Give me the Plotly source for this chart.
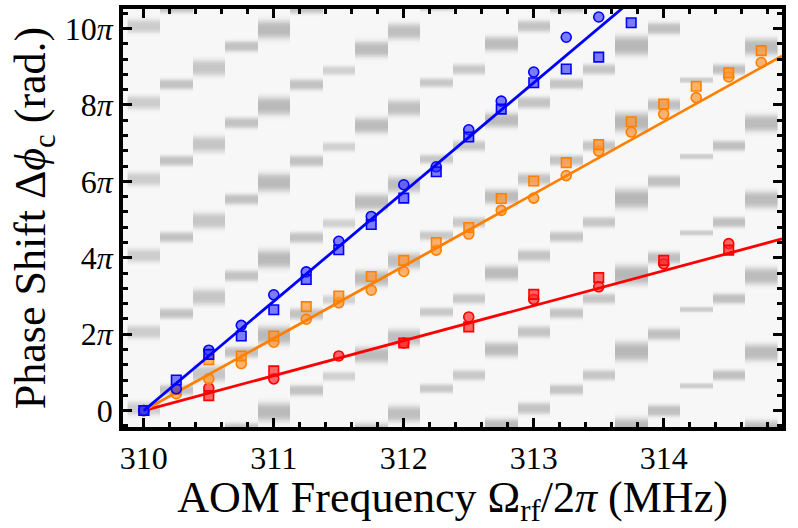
import numpy as np
import plotly.graph_objects as go

# ---------------- data (phase in units of pi) ----------------
blue_f_circ = [310, 310.25, 310.5, 310.75, 311, 311.25, 311.5, 311.75, 312, 312.25,
               312.5, 312.75, 313, 313.25, 313.5]
blue_circ = [0, 0.57, 1.58, 2.23, 3.03, 3.63, 4.43, 5.08, 5.91, 6.38,
             7.35, 8.10, 8.86, 9.77, 10.30]
blue_f_sq = [310, 310.25, 310.5, 310.75, 311, 311.25, 311.5, 311.75, 312, 312.25,
             312.5, 312.75, 313, 313.25, 313.5, 313.75]
blue_sq = [0, 0.80, 1.47, 1.95, 2.64, 3.43, 4.21, 4.87, 5.56, 6.25,
           7.16, 7.89, 8.58, 8.94, 9.25, 10.15]

orange_f = [310, 310.25, 310.5, 310.75, 311, 311.25, 311.5, 311.75, 312, 312.25,
            312.5, 312.75, 313, 313.25, 313.5, 313.75, 314, 314.25, 314.5, 314.75]
orange_circ = [0, 0.44, 0.83, 1.23, 1.79, 2.39, 2.82, 3.15, 3.64, 4.20,
               4.62, 5.24, 5.56, 6.15, 6.79, 7.29, 7.76, 8.19, 8.73, 9.11]
orange_sq = [0, 0.55, 1.33, 1.43, 1.95, 2.72, 3.00, 3.51, 3.93, 4.40,
             4.79, 5.55, 6.01, 6.49, 6.96, 7.56, 8.02, 8.49, 8.84, 9.42]

red_f_circ = [310, 310.5, 311, 311.5, 312, 312.5, 313, 313.5, 314, 314.5]
red_circ = [0, 0.59, 0.83, 1.43, 1.77, 2.45, 2.91, 3.24, 3.84, 4.37]
red_f_sq = [310, 310.5, 311, 312, 312.5, 313, 313.5, 314, 314.5]
red_sq = [0, 0.39, 1.04, 1.77, 2.19, 3.04, 3.48, 3.93, 4.20]

# fitted slopes (pi per MHz), lines start at (310, 0)
fit_f0 = 310.0
fit_end = 314.91
blue_slope = 2.86
orange_slope = 1.89
red_slope = 0.915

# background fringe map: one column per frequency
bg_f = [310, 310.25, 310.5, 310.75, 311, 311.25, 311.5, 311.75, 312, 312.25,
        312.5, 312.75, 313, 313.25, 313.5, 313.75, 314, 314.25, 314.5, 314.75]
bg_offset = [0.06, 0.54, 0.97, 1.53, 1.97, 0.53, 0.90, 1.46, 1.92, 0.58,
             0.93, 1.60, 0.06, 0.55, 0.93, 1.55, 0.00, 0.65, 0.93, 1.52]
bg_depth = [0.50, 0.62, 0.58, 0.62, 0.72, 0.62, 0.45, 0.70, 0.66, 0.55,
            0.55, 0.70, 0.60, 0.60, 0.58, 0.75, 0.65, 0.50, 0.65, 0.70]
bg_halfwidth = [0.22, 0.17, 0.26, 0.18, 0.30, 0.18, 0.15, 0.26, 0.26, 0.15,
                0.17, 0.24, 0.19, 0.17, 0.17, 0.32, 0.19, 0.09, 0.17, 0.28]

x_ticks = [310, 311, 312, 313, 314]
y_tickvals = [0, 2, 4, 6, 8, 10]
y_ticktext = ["0", "2<i>π</i>", "4<i>π</i>", "6<i>π</i>", "8<i>π</i>", "10<i>π</i>"]

x_title = "AOM Frequency Ω<sub>rf</sub>/2<i>π</i> (MHz)"
y_title = "Phase Shift Δ<i>ϕ</i><sub>c</sub> (rad.)"

# ---------------- build figure ----------------
yy = np.arange(-0.5, 10.62, 0.01)
z = np.zeros((len(yy), len(bg_f)))
for k in range(len(bg_f)):
    col = np.zeros_like(yy)
    w = 0.8 * bg_halfwidth[k]
    for n in range(-2, 8):
        d = np.abs(yy - bg_offset[k] - 2 * n) / w
        col += np.exp(-d ** 3)
    z[:, k] = bg_depth[k] * np.clip(col, 0, 1)

fig = go.Figure()
fig.add_trace(go.Heatmap(
    x=bg_f, y=yy, z=z, zmin=0, zmax=1, showscale=False, zsmooth=False,
    colorscale=[[0, "#f7f7f7"], [1, "#a2a2a2"]], hoverinfo="skip"))

fx = np.array([fit_f0, fit_end])


def add_series(fc, vc, fs, vs, slope, line_col, fill_col):
    fig.add_trace(go.Scatter(
        x=fc, y=vc, mode="markers", cliponaxis=False,
        marker=dict(symbol="circle", size=10, color=fill_col,
                    line=dict(color=line_col, width=1.6))))
    fig.add_trace(go.Scatter(
        x=fs, y=vs, mode="markers", cliponaxis=False,
        marker=dict(symbol="square", size=9.5, color=fill_col,
                    line=dict(color=line_col, width=1.6))))
    fig.add_trace(go.Scatter(
        x=fx, y=slope * (fx - fit_f0), mode="lines",
        line=dict(color=line_col, width=2.8)))


add_series(red_f_circ, red_circ, red_f_sq, red_sq, red_slope, "#ff0000", "rgba(255,40,40,0.7)")
add_series(orange_f, orange_circ, orange_f, orange_sq, orange_slope, "#ff8000", "rgba(255,150,50,0.7)")
add_series(blue_f_circ, blue_circ, blue_f_sq, blue_sq, blue_slope, "#0000ff", "rgba(40,40,255,0.6)")

font_family = "Liberation Serif, Times New Roman, serif"

fig.update_layout(
    width=798, height=528,
    margin=dict(l=123, r=16, t=5, b=101),
    paper_bgcolor="white", plot_bgcolor="#f7f7f7",
    showlegend=False,
    font=dict(family=font_family, color="black", size=32),
)
fig.update_xaxes(
    range=[309.84, 314.91], tickvals=x_ticks, ticks="inside", ticklen=9, tickwidth=3,
    tickcolor="black", showline=True, linewidth=3.5, linecolor="black", mirror="allticks",
    showgrid=False, zeroline=False, tickfont=dict(size=32),
    minor=dict(ticks="inside", dtick=0.2, tick0=310, ticklen=5, tickwidth=3, tickcolor="black", showgrid=False),
    title=dict(text=x_title, font=dict(size=44), standoff=0),
)
fig.update_yaxes(
    range=[-0.43, 10.51], tickvals=y_tickvals, ticktext=y_ticktext, ticks="inside",
    ticklen=9, tickwidth=3, tickcolor="black", showline=True, linewidth=3.5,
    linecolor="black", mirror="allticks", showgrid=False, zeroline=False,
    tickfont=dict(size=32),
    minor=dict(ticks="inside", dtick=0.4, tick0=0, ticklen=5, tickwidth=3, tickcolor="black", showgrid=False),
    title=dict(text=y_title, font=dict(size=44), standoff=6),
)

fig.write_html("out.html")
